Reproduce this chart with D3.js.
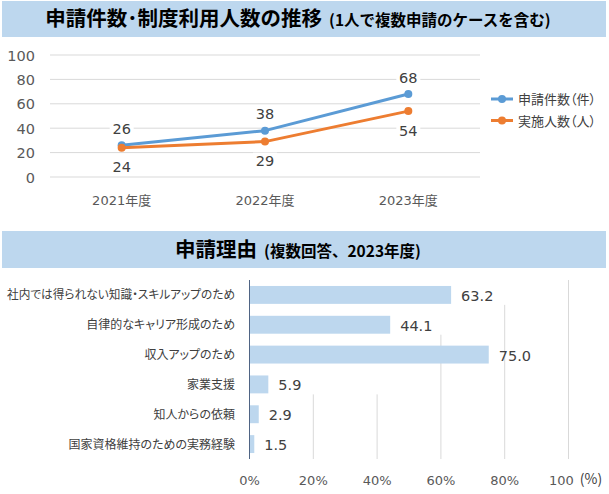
<!DOCTYPE html>
<html><head><meta charset="utf-8">
<script src="https://cdn.jsdelivr.net/npm/d3@7"></script>
<style>
html,body{margin:0;padding:0;background:#fff;}
svg{display:block;}
.jp{font-family:"Noto Sans CJK JP","Noto Sans",sans-serif;font-feature-settings:"palt";}
.jt{font-family:"Noto Sans CJK JP","Noto Sans",sans-serif;}
.num{font-family:"DejaVu Sans","Noto Sans CJK JP",sans-serif;}
</style></head>
<body>
<svg id="c" width="609" height="494"></svg>
<script>
// ---- data ----
const years = ["2021年度", "2022年度", "2023年度"];
const applications = [26, 38, 68];
const participants = [24, 29, 54];
const seriesNames = ["申請件数（件）", "実施人数（人）"];
const lineTicks = [0, 20, 40, 60, 80, 100];

const reasons = [
  "社内では得られない知識・スキルアップのため",
  "自律的なキャリア形成のため",
  "収入アップのため",
  "家業支援",
  "知人からの依頼",
  "国家資格維持のための実務経験"
];
const reasonPct = [63.2, 44.1, 75.0, 5.9, 2.9, 1.5];
const pctTicks = [0, 20, 40, 60, 80, 100];
const pctTickLabels = ["0%", "20%", "40%", "60%", "80%", "100"];
const pctUnit = "(%)";

const title1 = "申請件数･制度利用人数の推移";
const sub1 = "(1人で複数申請のケースを含む)";
const title2 = "申請理由";
const sub2 = "(複数回答、2023年度)";

// ---- drawing ----
const svg = d3.select("#c");
const BLUE = "#5b9bd5", ORANGE = "#ed7d31", BANNER = "#bdd7ee", GRID = "#d9d9d9";

function banner(y0, y1, t, s) {
  svg.append("rect").attr("x", 2).attr("y", y0).attr("width", 604).attr("height", y1 - y0).attr("fill", BANNER);
  const tx = svg.append("text").attr("class", "jt").attr("x", 298).attr("y", (y0 + y1) / 2 + 7)
    .attr("text-anchor", "middle").attr("font-weight", 700).attr("fill", "#000");
  tx.append("tspan").attr("font-size", 20.5).text(t);
  tx.append("tspan").attr("font-size", 15.5).attr("dx", 7).text(s);
}
banner(1, 37, title1, sub1);
banner(231, 268, title2, sub2);

// ---- line chart ----
const x = d3.scalePoint().domain(years).range([50, 480]).padding(0.5);
const y = d3.scaleLinear().domain([0, 100]).range([177, 55]);

const gL = svg.append("g");
gL.selectAll("line.grid").data(lineTicks).join("line")
  .attr("x1", 50).attr("x2", 480).attr("y1", d => y(d)).attr("y2", d => y(d))
  .attr("stroke", GRID).attr("stroke-width", 1);
gL.selectAll("text.yt").data(lineTicks).join("text").attr("class", "num")
  .attr("x", 35).attr("y", d => y(d) + 5.5).attr("text-anchor", "end")
  .attr("font-size", 14.5).attr("fill", "#595959").text(d => d);
gL.selectAll("text.xt").data(years).join("text").attr("class", "num")
  .attr("x", d => x(d)).attr("y", 205).attr("text-anchor", "middle")
  .attr("font-size", 13).attr("fill", "#595959").text(d => d);

const series = [
  {name: seriesNames[0], vals: applications, color: BLUE, off: -17},
  {name: seriesNames[1], vals: participants, color: ORANGE, off: 19}
];
const line = d3.line().x((d, i) => x(years[i])).y(d => y(d));
series.forEach(s => {
  gL.append("path").attr("d", line(s.vals)).attr("fill", "none")
    .attr("stroke", s.color).attr("stroke-width", 3).attr("stroke-linejoin", "round");
  gL.selectAll(null).data(s.vals).join("circle")
    .attr("cx", (d, i) => x(years[i])).attr("cy", d => y(d)).attr("r", 4).attr("fill", s.color);
});
series.forEach(s => {
  const lab = gL.selectAll(null).data(s.vals).join("g")
    .attr("transform", (d, i) => `translate(${x(years[i])},${y(d) + s.off})`);
  lab.append("rect").attr("x", -12).attr("y", -8).attr("width", 24).attr("height", 16).attr("fill", "#fff");
  lab.append("text").attr("class", "num").attr("text-anchor", "middle").attr("y", 5.5)
    .attr("font-size", 14.5).attr("fill", "#404040").text(d => d);
});

// legend
series.forEach((s, i) => {
  const ly = 99 + i * 21.5;
  gL.append("line").attr("x1", 491).attr("x2", 513).attr("y1", ly).attr("y2", ly)
    .attr("stroke", s.color).attr("stroke-width", 3);
  gL.append("circle").attr("cx", 502).attr("cy", ly).attr("r", 4).attr("fill", s.color);
  gL.append("text").attr("class", "jp").attr("x", 518).attr("y", ly + 5)
    .attr("font-size", 13).attr("fill", "#404040").text(s.name);
});

// ---- bar chart ----
const bx = d3.scaleLinear().domain([0, 100]).range([249.5, 568.5]);
const by = d3.scaleBand().domain(reasons).range([280, 459]).paddingInner(0.4).paddingOuter(0.2);
const gB = svg.append("g");
// gridlines (partially hidden in the upper rows as in the original)
const hiddenRows = {20: 4, 40: 4, 60: 2, 80: 1, 100: 0};
pctTicks.filter(d => d > 0).forEach(d => {
  const k = hiddenRows[d];
  const y0 = k === 0 ? 280 : by(reasons[k - 1]) + by.bandwidth() + 1;
  gB.append("line").attr("x1", bx(d)).attr("x2", bx(d)).attr("y1", y0).attr("y2", 459)
    .attr("stroke", GRID).attr("stroke-width", 1);
});
gB.selectAll("rect.bar").data(reasonPct).join("rect")
  .attr("x", bx(0)).attr("y", (d, i) => by(reasons[i]))
  .attr("width", d => bx(d) - bx(0)).attr("height", by.bandwidth()).attr("fill", BANNER);
gB.append("line").attr("x1", bx(0)).attr("x2", bx(0)).attr("y1", 280).attr("y2", 459)
  .attr("stroke", "#4f6484").attr("stroke-width", 1);
gB.selectAll("text.val").data(reasonPct).join("text").attr("class", "num")
  .attr("x", d => bx(d) + 10).attr("y", (d, i) => by(reasons[i]) + by.bandwidth() / 2 + 6)
  .attr("font-size", 14.5).attr("fill", "#404040").text(d => d3.format(".1f")(d));
gB.selectAll("text.cat").data(reasons).join("text").attr("class", "jp")
  .attr("x", 235).attr("y", d => by(d) + by.bandwidth() / 2 + 4.5).attr("text-anchor", "end")
  .attr("font-size", 12).attr("fill", "#404040").text(d => d)
  .each(function() {
    if (this.getComputedTextLength() > 228) {
      d3.select(this).attr("textLength", 228).attr("lengthAdjust", "spacingAndGlyphs");
    }
  });
gB.selectAll("text.pt").data(pctTicks).join("text").attr("class", "num")
  .attr("x", d => bx(d) - (d === 100 ? 7 : 0)).attr("y", 485).attr("text-anchor", "middle")
  .attr("font-size", 13).attr("fill", "#595959").text((d, i) => pctTickLabels[i]);
gB.append("text").attr("class", "jt").attr("x", 591).attr("y", 484).attr("text-anchor", "middle")
  .attr("font-size", 14).attr("fill", "#404040").text(pctUnit);
</script>
</body></html>
